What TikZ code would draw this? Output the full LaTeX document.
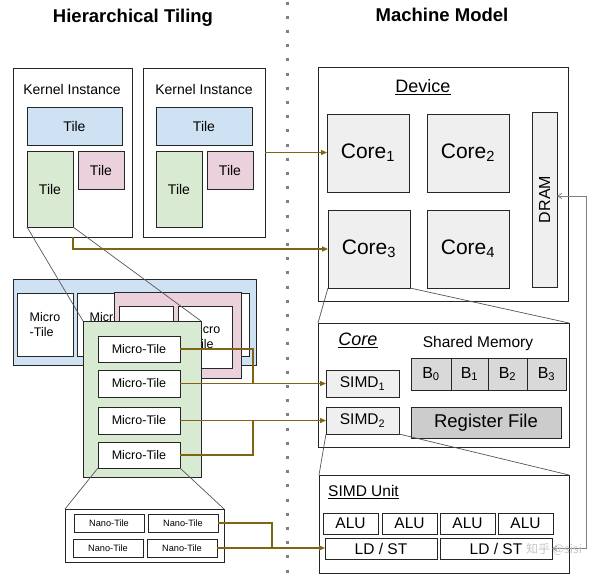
\documentclass[tikz,border=0pt]{standalone}
\usepackage{fontspec}
\setmainfont{Liberation Sans}
\newfontfamily\cjkfont{Noto Sans CJK SC}
\usetikzlibrary{arrows.meta}
\definecolor{tblue}{HTML}{CFE2F3}
\definecolor{tpink}{HTML}{EAD1DC}
\definecolor{tgreen}{HTML}{D9EAD3}
\definecolor{lgray}{HTML}{EFEFEF}
\definecolor{mgray}{HTML}{D9D9D9}
\definecolor{dgray}{HTML}{CCCCCC}
\definecolor{olv}{RGB}{128,100,20}
\definecolor{lnk}{HTML}{555555}
\definecolor{edge}{HTML}{262626}
\begin{document}
\begin{tikzpicture}[x=1pt,y=-1pt,
  box/.style={draw=edge, line width=1pt, inner sep=0pt, outer sep=0pt},
  rc/.style args={#1/#2/#3/#4}{at={({(#1+#3)/2},{(#2+#4)/2})},
     minimum width={(#3-#1)*1pt}, minimum height={(#4-#2)*1pt}},
  fs/.style={font=\fontsize{#1}{#1}\selectfont},
  micro/.style={align=left, font=\fontsize{12.5}{15}\selectfont},
  olvline/.style={draw=olv, line width=1.2pt},
  olvarrow/.style={olvline, -{Triangle[length=6pt,width=5pt]}},
  zoomline/.style={draw=lnk, line width=0.7pt},
  txt/.style={inner sep=0pt}]
\useasboundingbox (0,0) rectangle (600,581);

% separator
\draw[gray, line width=3pt, dash pattern=on 3pt off 11.2pt] (287,1.5) -- (287,581);

% titles
\node[txt, font=\fontsize{18.5}{18.5}\selectfont\bfseries] (tleft) at (133,18) {Hierarchical Tiling};
\node[txt, font=\fontsize{18.5}{18.5}\selectfont\bfseries] (tright) at (442,15) {Machine Model};

% kernel instances
\node[box, fill=white, rc=13/68/132/237] (k1) {};
\node[txt, fs=14] (k1lbl) at (72,89) {Kernel Instance};
\node[box, fill=tblue, rc=27/107/122/145, fs=14] (k1b) {Tile};
\node[box, fill=tgreen, rc=27/151/73/227, fs=14] (k1g) {Tile};
\node[box, fill=tpink, rc=78/151/124/189, fs=14] (k1p) {Tile};

\node[box, fill=white, rc=143/68/265/237] (k2) {};
\node[txt, fs=14] (k2lbl) at (204,89) {Kernel Instance};
\node[box, fill=tblue, rc=156/107/252/145, fs=14] (k2b) {Tile};
\node[box, fill=tgreen, rc=156/151/202/227, fs=14] (k2g) {Tile};
\node[box, fill=tpink, rc=207/151/253/189, fs=14] (k2p) {Tile};

% blue micro panel
\node[box, fill=tblue, rc=13/279/256/365] (bp) {};
\node[box, fill=white, rc=17/293/73/356, micro] (bm1) {Micro\\-Tile};
\node[box, fill=white, rc=77/293/133/356, micro] (bm2) {Micro\\-Tile};
\node[box, fill=white, rc=137/293/193/356] (bm3) {};
\node[box, fill=white, rc=197/293/249/356] (bm4) {};

% pink micro panel
\node[box, fill=tpink, rc=114/292/241/378] (pp) {};
\node[box, fill=white, rc=119/306/173/368] (pm1) {};
\node[box, fill=white, rc=178/306/232/368, micro] (pm2) {Micro\\-Tile};

% green micro panel
\node[box, fill=tgreen, rc=83/321/201/477] (gp) {};
\node[box, fill=white, rc=98/336/180/362, fs=12.5] (mt1) {Micro-Tile};
\node[box, fill=white, rc=98/370/180/397, fs=12.5] (mt2) {Micro-Tile};
\node[box, fill=white, rc=98/407/180/434, fs=12.5] (mt3) {Micro-Tile};
\node[box, fill=white, rc=98/442/180/468, fs=12.5] (mt4) {Micro-Tile};

% nano tiles
\node[box, fill=white, rc=65/509/224/562] (nb) {};
\node[box, fill=white, rc=74/514/144/532, fs=9.2] (nt1) {Nano-Tile};
\node[box, fill=white, rc=148/514/218/532, fs=9.2] (nt2) {Nano-Tile};
\node[box, fill=white, rc=73/539/143/557, fs=9.2] (nt3) {Nano-Tile};
\node[box, fill=white, rc=147/539/217/557, fs=9.2] (nt4) {Nano-Tile};

% device
\node[box, fill=white, rc=318/67/568/301] (dev) {};
\node[txt, fs=18] (devlbl) at (423,87) {\underline{Device}};
\node[box, fill=lgray, rc=327/114/409/192, fs=21] (c1) {Core\textsubscript{1}};
\node[box, fill=lgray, rc=427/114/509/192, fs=21] (c2) {Core\textsubscript{2}};
\node[box, fill=lgray, rc=328/210/410/288, fs=21] (c3) {Core\textsubscript{3}};
\node[box, fill=lgray, rc=427/210/509/288, fs=21] (c4) {Core\textsubscript{4}};
\node[box, fill=lgray, rc=532/112/557/287, fs=16] (dram) {\rotatebox{90}{DRAM}};

% core
\node[box, fill=white, rc=318/323/569/447] (cb) {};
\node[txt, fs=18] (cblbl) at (358,340) {\textit{\underline{Core}}};
\node[txt, fs=15.5] (smlbl) at (478,343) {Shared Memory};
\node[box, fill=mgray, rc=411/358/451/390, fs=16] (b0) {B\textsubscript{0}};
\node[box, fill=mgray, rc=451/358/488/390, fs=16] (b1) {B\textsubscript{1}};
\node[box, fill=mgray, rc=488/358/527/390, fs=16] (b2) {B\textsubscript{2}};
\node[box, fill=mgray, rc=527/358/566/390, fs=16] (b3) {B\textsubscript{3}};
\node[box, fill=dgray, rc=411/407/561/438, fs=18.5] (rf) {Register File};
\node[box, fill=lgray, rc=326/370/399/397, fs=15.5] (s1) {SIMD\textsubscript{1}};
\node[box, fill=lgray, rc=326/407/399/434, fs=15.5] (s2) {SIMD\textsubscript{2}};

% SIMD unit
\node[box, fill=white, rc=319/475/569/573] (sb) {};
\node[txt, fs=15.5, anchor=west] (sblbl) at (328,492) {\underline{SIMD Unit}};
\node[box, fill=white, rc=323/513/378/534, fs=15.5] (alu1) {ALU};
\node[box, fill=white, rc=382/513/437/534, fs=15.5] (alu2) {ALU};
\node[box, fill=white, rc=440/513/495/534, fs=15.5] (alu3) {ALU};
\node[box, fill=white, rc=498/513/553/534, fs=15.5] (alu4) {ALU};
\node[box, fill=white, rc=325/538/437/559, fs=15.5] (ls1) {LD / ST};
\node[box, fill=white, rc=440/538/552/559, fs=15.5] (ls2) {LD / ST};

% zoom lines
\draw[zoomline] (k1g.south west) -- (gp.north west);
\draw[zoomline] (k1g.south east) -- (gp.north east);
\draw[zoomline] (mt4.south west) -- (nb.north west);
\draw[zoomline] (mt4.south east) -- (nb.north east);
\draw[zoomline] (c3.south west) -- (cb.north west);
\draw[zoomline] (c3.south east) -- (cb.north east);
\draw[zoomline] (s2.south west) -- (sb.north west);
\draw[zoomline] (s2.south east) -- (sb.north east);

% olive connectors
\coordinate (j1) at (253,384);
\coordinate (j2) at (253,420);
\coordinate (j3) at (272,548);
\draw[olvarrow] (k2.east) -- (k2.east -| c1.west);
\draw[olvarrow] (k1g.east |- k1.south) -- (k1g.east |- c3.west) -- (c3.west);
\draw[olvline] (mt1.east) -| (j1);
\draw[olvarrow] (mt2.east) -- (mt2.east -| s1.west);
\draw[olvarrow] (mt3.east) -- (mt3.east -| s2.west);
\draw[olvline] (mt4.east) -| (j2);
\draw[olvline] (nt2.east) -| (j3);
\draw[olvarrow] (nt4.east) -- (nt4.east -| ls1.west);

% DRAM link
\coordinate (dr) at (586,196);
\draw[draw=gray, line width=0.8pt, {Straight Barb[length=4pt,width=5pt]}-{Straight Barb[length=4pt,width=5pt]}]
  (ls2.east) -- (ls2.east -| dr) -- (dr) -- (dr -| dram.east);

% watermark
\node[txt, text=black!22, font=\cjkfont\fontsize{12}{12}\selectfont, anchor=west] (wm) at (526,549) {知乎 @sisi};
\end{tikzpicture}
\end{document}
